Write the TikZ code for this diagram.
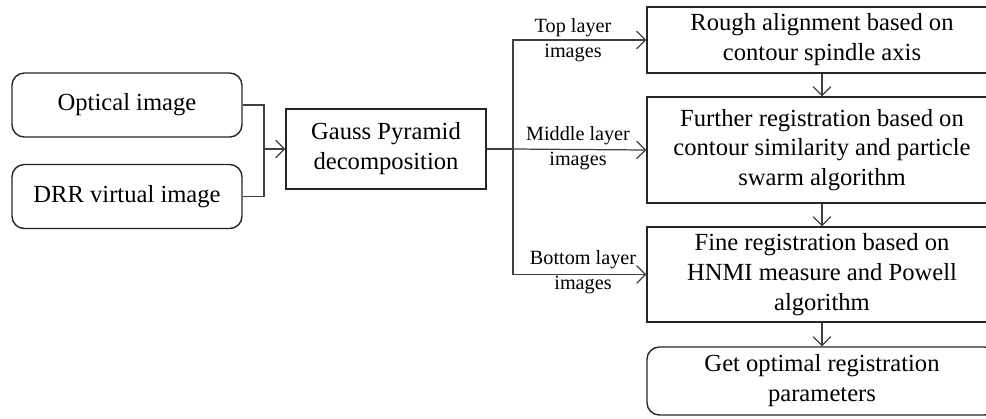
\documentclass[tikz,border=0pt]{standalone}
\usepackage{fontspec}
\setmainfont{Liberation Serif}
\usetikzlibrary{arrows.meta,positioning}

\begin{document}
\begin{tikzpicture}

\tikzset{boite/.style={draw=black!85,line width=0.8pt,align=center,
    font=\fontsize{14}{17}\selectfont,inner sep=2pt,minimum width=7cm}, %boites de droite
  boiteR/.style={boite,rounded corners=7pt},
  etiq/.style={align=center,font=\fontsize{11.5}{14.5}\selectfont,inner sep=0pt},
  fleche/.style={draw=black!75,line width=0.7pt,-{Straight Barb[length=5pt,width=10pt]}},
  trait/.style={draw=black!75,line width=0.7pt}}

\useasboundingbox (0,0) rectangle (19.72,-8.36);

%----------entrees------------
\node[boiteR,minimum width=4.6cm,minimum height=1.28cm] (opt) at (2.54,-2.10) {Optical image};
\node[boiteR,minimum width=4.6cm,minimum height=1.28cm] (drr) at (2.54,-3.93) {DRR virtual image};

\node[boite,minimum width=4cm,minimum height=1.6cm] (gauss) at (7.72,-2.98) {Gauss Pyramid\\decomposition};

%----------colonne de droite------------
\node[boite,minimum height=1.32cm] (rough) at (16.44,-0.80) {Rough alignment based on\\contour spindle axis};
\node[boite,minimum height=2.12cm] (further) at (16.44,-3.00) {Further registration based on\\contour similarity and particle\\swarm algorithm};
\node[boite,minimum height=1.9cm] (fine) at (16.44,-5.49) {Fine registration based on\\HNMI measure and Powell\\algorithm};
\node[boiteR,minimum height=1.36cm] (getopt) at (16.44,-7.62) {Get optimal registration\\parameters};

%jonctions
\coordinate (join) at (5.28,-2.98);
\coordinate (split) at (10.26,-2.98);

\draw[trait] (opt.east) -| (join);
\draw[trait] (drr.east) -| (join);
\draw[fleche] (join) -- (gauss.west);

\draw[trait] (gauss.east) -- (split);
\draw[fleche] (split) |- (rough.west);
\draw[fleche] (split) -- (further.west);
\draw[fleche] (split) |- (fine.west);

\draw[fleche] (rough.south) -- (further.north);
\draw[fleche] (further.south) -- (fine.north);
\draw[fleche] (fine.south) -- (getopt.north);

%etiquettes
\node[etiq] (ltop) at (11.46,-0.80) {Top layer\\images};
\node[etiq] (lmid) at (11.56,-2.96) {Middle layer\\images};
\node[etiq] (lbot) at (11.66,-5.44) {Bottom layer\\images};

\end{tikzpicture}
\end{document}
